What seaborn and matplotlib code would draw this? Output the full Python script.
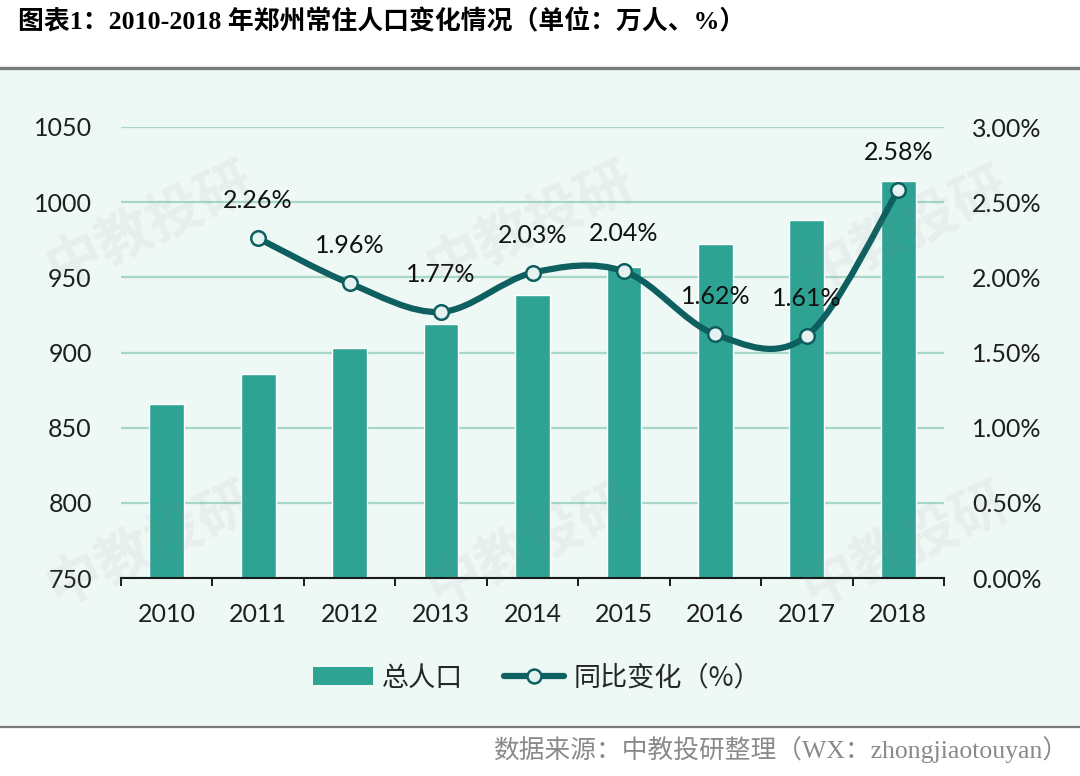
import matplotlib
matplotlib.use("Agg")
import matplotlib.pyplot as plt
from matplotlib.path import Path
from matplotlib.patches import PathPatch, Rectangle, Patch
from matplotlib.lines import Line2D
import numpy as np
import pandas as pd
import seaborn as sns

# data
years = ["2010", "2011", "2012", "2013", "2014", "2015", "2016", "2017", "2018"]
population = [866, 886, 903, 919, 938, 957, 972, 988, 1014]
growth_years = ["2011", "2012", "2013", "2014", "2015", "2016", "2017", "2018"]
growth_pct = [2.26, 1.96, 1.77, 2.03, 2.04, 1.62, 1.61, 2.58]
left_ticks = [750, 800, 850, 900, 950, 1000, 1050]
right_ticks = [0.0, 0.5, 1.0, 1.5, 2.0, 2.5, 3.0]

title = "图表1：2010-2018 年郑州常住人口变化情况（单位：万人、%）"
source = "数据来源：中教投研整理（WX：zhongjiaotouyan）"
bar_label = "总人口"
line_label = "同比变化（%）"

BAR = "#2ea394"
LINE = "#0e5f60"
BG = "#eef8f5"
GRID = "#a7d7c7"
MARKER_FACE = "#e6f2ef"

sns.set_theme(style="white")
plt.rcParams["font.family"] = ["Lato", "Noto Sans CJK SC", "DejaVu Sans"]
mixed_serif = ["Liberation Serif", "Noto Sans CJK SC", "DejaVu Sans"]

fig = plt.figure(figsize=(10.8, 7.76), dpi=100)
W, H = 1080, 776

# mint panel and rules
fig.add_artist(Rectangle((0, 1 - 727 / H), 1, (727 - 69) / H, transform=fig.transFigure,
                         facecolor=BG, edgecolor="none", zorder=0))
fig.add_artist(Line2D([0, 1], [1 - 68 / H] * 2, transform=fig.transFigure, color="#7b7b7b", lw=2.4))
fig.add_artist(Line2D([0, 1], [1 - 727 / H] * 2, transform=fig.transFigure, color="#7b7b7b", lw=1.6))

fig.text(18 / W, 1 - 22 / H, title, family=mixed_serif, weight="bold", fontsize=18.6,
         ha="left", va="center", color="black")
fig.text(1068 / W, 1 - 750 / H, source, family=mixed_serif, fontsize=18.5,
         ha="right", va="center", color="#8a8a8a")

ax = fig.add_axes([121 / W, 1 - 578 / H, (944 - 121) / W, (578 - 127) / H])
ax.set_facecolor("none")

df = pd.DataFrame({"year": years, "population": population})
sns.barplot(data=df, x="year", y="population", color=BAR, width=0.38, saturation=1,
            ax=ax, zorder=2)
ax.set_ylim(750, 1050)
ax.set_xlim(-0.5, len(years) - 0.5)
ax.set_yticks(left_ticks)
ax.yaxis.grid(True, color=GRID, lw=1.6)
ax.set_axisbelow(True)
ax.set_xlabel("")
ax.set_ylabel("")
for side in ["top", "left", "right"]:
    ax.spines[side].set_visible(False)
ax.spines["bottom"].set_color("#1a1a1a")
ax.spines["bottom"].set_linewidth(1.5)
ax.spines["bottom"].set_zorder(5)
ax.tick_params(axis="y", length=0, pad=21, labelsize=18, labelcolor="#1f1f1f")
ax.tick_params(axis="x", which="major", length=0, pad=18, labelsize=18, labelcolor="#1f1f1f")
ax.set_xticks(np.arange(-0.5, len(years), 1), minor=True)
ax.tick_params(axis="x", which="minor", bottom=True, length=6, width=1.4, color="#1a1a1a", direction="out")

ax2 = ax.twinx()
ax2.set_ylim(0, 3)
ax2.set_yticks(right_ticks)
ax2.set_yticklabels([f"{v:.2f}%" for v in right_ticks])
ax2.tick_params(axis="y", right=False, length=0, pad=20, labelsize=18, labelcolor="#1f1f1f")
ax2.grid(False)
for side in ax2.spines:
    ax2.spines[side].set_visible(False)

# smoothed growth line (Catmull-Rom style Bezier through the data points)
xs = np.array([years.index(y) for y in growth_years], dtype=float)
pts = np.column_stack([xs, growth_pct])
n = len(pts)
verts = [pts[0]]
codes = [Path.MOVETO]
for i in range(n - 1):
    p_prev = pts[i - 1] if i > 0 else pts[i]
    p_next = pts[i + 2] if i + 2 < n else pts[i + 1]
    c1 = pts[i] + (pts[i + 1] - p_prev) / 6
    c2 = pts[i + 1] - (p_next - pts[i]) / 6
    verts += [c1, c2, pts[i + 1]]
    codes += [Path.CURVE4] * 3
ax2.add_patch(PathPatch(Path(verts, codes), facecolor="none", edgecolor=LINE, lw=4.5,
                        capstyle="round", joinstyle="round", zorder=3))
sns.scatterplot(x=xs, y=growth_pct, ax=ax2, s=110, color=MARKER_FACE, edgecolor=LINE,
                linewidth=1.8, zorder=4, legend=False)
for x, v in zip(xs, growth_pct):
    ax2.annotate(f"{v:.2f}%", (x, v), xytext=(0, 27), textcoords="offset points",
                 ha="center", va="center", fontsize=18, color="#111111", zorder=5)

# faint watermarks
for cx, cy in [(150, 225), (530, 225), (905, 230), (150, 545), (530, 545), (905, 545)]:
    fig.text(cx / W, 1 - cy / H, "中教投研", family=["Noto Sans CJK SC"], weight="bold",
             fontsize=40, rotation=25, ha="center", va="center", color="#8c8c8c",
             alpha=0.08, zorder=10)

handles = [
    Patch(facecolor=BAR, edgecolor="none"),
    Line2D([0], [0], color=LINE, lw=4.5, marker="o", markersize=10,
           markerfacecolor=MARKER_FACE, markeredgecolor=LINE, markeredgewidth=1.8),
]
fig.legend(handles, [bar_label, line_label], loc="center", bbox_to_anchor=(537 / W, 1 - 678 / H),
           ncol=2, frameon=False, handlelength=2.2, handletextpad=0.35, handleheight=0.65,
           columnspacing=1.5, prop={"family": ["Noto Sans CJK SC"], "size": 19.5})

fig.savefig("out.png", dpi=100)
